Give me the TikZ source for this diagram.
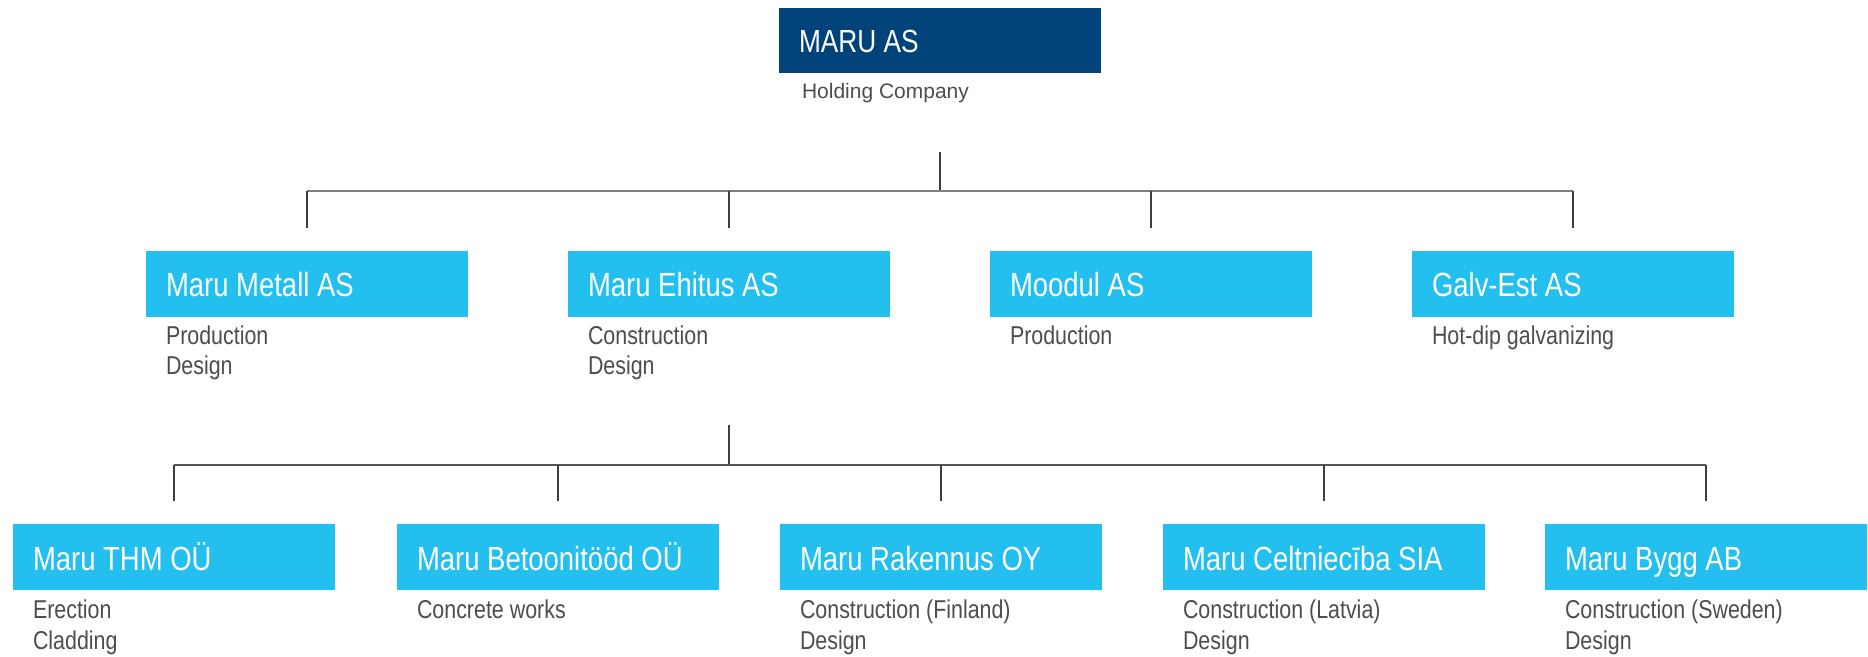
\documentclass[tikz,border=0pt]{standalone}
\usepackage{fontspec}
\setmainfont{Liberation Sans}
\newfontfamily\titlefont[FakeStretch=0.82]{Liberation Sans}
\newfontfamily\subfont[FakeStretch=0.83]{Liberation Sans}
\definecolor{darkblue}{HTML}{00427A}
\definecolor{lightblue}{HTML}{22BFEF}
\definecolor{textgray}{HTML}{4D4D4D}
\definecolor{busgray}{HTML}{7F7F7F}
\definecolor{lowbus}{HTML}{555555}
\definecolor{stemgray}{HTML}{3F3F3F}
\tikzset{
  box/.style={fill=lightblue, draw=none, minimum width=161pt, minimum height=33pt,
    inner sep=0pt, outer sep=0pt, anchor=north west},
  topbox/.style={box, fill=darkblue, minimum height=32.5pt},
  titletext/.style={anchor=base west, inner sep=0pt, outer sep=0pt, text=white,
    font=\titlefont\fontsize{16.75}{20}\selectfont},
  subtext/.style={anchor=base west, inner sep=0pt, outer sep=0pt, text=textgray,
    font=\subfont\fontsize{12.9}{15.25}\selectfont},
  holdtext/.style={anchor=base west, inner sep=0pt, outer sep=0pt, text=textgray,
    font=\fontsize{10.5}{13}\selectfont},
  stem/.style={draw=stemgray, line width=0.8pt},
  bus/.style={draw=busgray, line width=0.9pt},
  lbus/.style={draw=lowbus, line width=1pt},
}
% one-line unit: name, x, y, title, line
\newcommand{\orgunit}[5]{%
  \node[box] (#1) at (#2,#3) {};
  \node[titletext] (#1-t) at ([xshift=10pt,yshift=-23pt]#1.north west) {#4};
  \node[subtext] (#1-a) at ([xshift=10pt,yshift=-47pt]#1.north west) {#5};
}
% two-line unit: name, x, y, title, line1, line2, second baseline offset
\newcommand{\orgunittwo}[7]{%
  \orgunit{#1}{#2}{#3}{#4}{#5}%
  \node[subtext] (#1-b) at ([xshift=10pt,yshift=-#7]#1.north west) {#6};
}
\begin{document}
\begin{tikzpicture}[x=0.5pt,y=-0.5pt]
\fill[white] (0,0) rectangle (1868,657);
\useasboundingbox (0,0) rectangle (1868,657);

% top
\node[topbox] (maru) at (779,8) {};
\node[titletext, font=\titlefont\fontsize{16}{19}\selectfont] (maru-t) at ([xshift=10pt,yshift=-22.5pt]maru.north west) {MARU AS};
\node[holdtext] (maru-s) at ([xshift=11.5pt,yshift=-45.5pt]maru.north west) {Holding Company};

% level 2
\orgunittwo{metall}{146}{251}{Maru Metall AS}{Production}{Design}{62pt}
\orgunittwo{ehitus}{568}{251}{Maru Ehitus AS}{Construction}{Design}{62pt}
\orgunit{moodul}{990}{251}{Moodul AS}{Production}
\orgunit{galv}{1412}{251}{Galv-Est AS}{Hot-dip galvanizing}

% level 3
\orgunittwo{thm}{13}{524}{Maru THM OÜ}{Erection}{Cladding}{62.5pt}
\orgunit{betoon}{397}{524}{Maru Betoonitööd OÜ}{Concrete works}
\orgunittwo{rak}{780}{524}{Maru Rakennus OY}{Construction (Finland)}{Design}{62.5pt}
\orgunittwo{celt}{1163}{524}{Maru Celtniecība SIA}{Construction (Latvia)}{Design}{62.5pt}
\orgunittwo{bygg}{1545}{524}{Maru Bygg AB}{Construction (Sweden)}{Design}{62.5pt}

% connectors level 1 -> 2
\coordinate (bus1) at (0,191);
\coordinate (stem1) at ([yshift=-39.5pt]maru.south);
\draw[stem] (stem1) -- (stem1 |- bus1);
\draw[bus] (metall.north |- bus1) -- (galv.north |- bus1);
\foreach \n in {metall,ehitus,moodul,galv}{
  \draw[stem] (\n.north |- bus1) -- ([yshift=11.5pt]\n.north);
}

% connectors level 2 -> 3
\coordinate (bus2) at (0,465);
\coordinate (stem2) at ([yshift=-54pt]ehitus.south);
\draw[stem] (stem2) -- (stem2 |- bus2);
\draw[lbus] (thm.north |- bus2) -- (bygg.north |- bus2);
\foreach \n in {thm,betoon,rak,celt,bygg}{
  \draw[stem] (\n.north |- bus2) -- ([yshift=11.5pt]\n.north);
}
\end{tikzpicture}
\end{document}
